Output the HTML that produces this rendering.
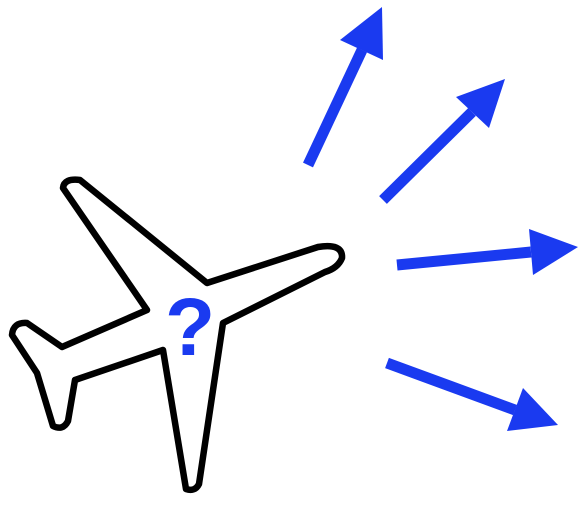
<!DOCTYPE html>
<html><head><meta charset="utf-8"><style>
html,body{margin:0;padding:0;background:#fff;width:583px;height:506px;overflow:hidden}
svg{display:block}
</style></head><body>
<svg width="583" height="506" viewBox="0 0 583 506">
<path d="M63,188 Q64,178 80,180 L207,283 L318,247 Q343,243 342,258 Q338,268 325,272 L223,323 L199,484 Q195,492 186,489 L163,350 L75,380 L68,421 Q63,431 53,426 L37,373 L12,335 Q13,322 27,323 L62,347 L147,310 Z" fill="#fff" stroke="#000" stroke-width="6.5" stroke-linejoin="round"/>
<text x="190" y="355" text-anchor="middle" font-family="Liberation Sans, sans-serif" font-weight="bold" font-size="82" fill="#1a3af0">?</text>
<g fill="#1a3af0" stroke="#1a3af0">
<g><line x1="308" y1="165" x2="362" y2="50" stroke-width="11"/><polygon points="382,7 340,40 383,60" stroke="none"/></g>
<g><line x1="383" y1="200" x2="472" y2="112" stroke-width="11"/><polygon points="505,79 456,97 489,128" stroke="none"/></g>
<g><line x1="397" y1="265" x2="531" y2="252" stroke-width="11"/><polygon points="578,247 529,229 533,275" stroke="none"/></g>
<g><line x1="387" y1="363" x2="515" y2="410" stroke-width="11"/><polygon points="558,425 523,388 507,431" stroke="none"/></g>
</g>
</svg>
</body></html>
